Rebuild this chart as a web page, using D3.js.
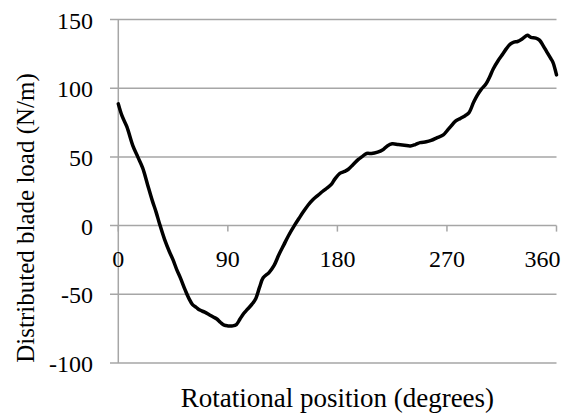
<!DOCTYPE html>
<html>
<head>
<meta charset="utf-8">
<script src="https://cdn.jsdelivr.net/npm/d3@7"></script>
<style>
  body { margin: 0; background: #fff; }
  text { font-family: "Liberation Serif", "Times New Roman", serif; fill: #000; }
</style>
</head>
<body>
<div class="canvas"></div>
<script>
// rotational position (degrees) and distributed blade load (N/m)
const positions = [0, 3, 7, 12, 16, 20, 24, 28, 31, 34, 38, 42, 45, 48, 51, 55, 58, 61, 64, 67,
  71, 75, 78, 81, 84, 87, 90, 94, 97, 100, 103, 106, 110, 113, 116, 119, 124, 128, 132, 136,
  140, 145, 149, 152, 156, 160, 164, 168, 171, 175, 178, 182, 186, 189, 193, 197, 200, 204, 208, 213,
  217, 221, 225, 230, 235, 240, 244, 248, 253, 257, 262, 267, 270, 273, 277, 281, 285, 288, 292, 295,
  298, 302, 305, 308, 312, 316, 319, 322, 325, 328, 332, 336, 339, 343, 346, 349, 352, 355, 357, 360];
const loads = [88.6, 80, 72, 58, 50, 42, 30, 18, 10, 1, -10, -19, -25, -32, -38, -47, -53, -57.5, -59.5, -61.5,
  -63, -65, -66.5, -68, -70.5, -72.5, -73, -73, -72, -68, -64, -61, -57, -53, -45, -38, -34, -29, -21, -14,
  -7, 0.5, 6, 10, 15, 19, 22, 25, 27, 30, 34, 38, 39.5, 41, 44.5, 48, 50, 52.5, 52.5, 53.5,
  55, 58, 59.5, 59, 58.5, 58, 59, 60.4, 61, 62, 64, 66, 69, 72, 76, 78, 80, 82, 90, 95,
  99, 103, 108, 114, 120, 125, 129, 132, 133.5, 134, 136, 138.5, 137, 136.5, 135, 131, 126.5, 122, 119, 109.7];

const xTicks = [0, 90, 180, 270, 360];
const yTicks = [-100, -50, 0, 50, 100, 150];

const data = positions.map((p, i) => ({ x: p, y: loads[i] }));

const width = 587, height = 417;
const svg = d3.select(".canvas").append("svg").attr("width", width).attr("height", height);

const x = d3.scaleLinear().domain([0, 360]).range([118.3, 556.5]);
const y = d3.scaleLinear().domain([-100, 150]).range([363, 19.5]);

const grey = "#a6a6a6";

// horizontal gridlines with the short left tick
svg.append("g")
  .selectAll("line")
  .data(yTicks)
  .enter()
  .append("line")
  .attr("x1", 110)
  .attr("x2", x(360))
  .attr("y1", (d) => y(d))
  .attr("y2", (d) => y(d))
  .attr("stroke", grey)
  .attr("stroke-width", 1.5);

// vertical axis line
svg.append("line")
  .attr("x1", x(0)).attr("x2", x(0))
  .attr("y1", y(150)).attr("y2", y(-100))
  .attr("stroke", grey).attr("stroke-width", 1.5);

// y tick labels
svg.append("g")
  .selectAll("text")
  .data(yTicks)
  .enter()
  .append("text")
  .attr("x", 93)
  .attr("y", (d) => y(d) + 9)
  .attr("text-anchor", "end")
  .style("font-size", "24px")
  .text((d) => d);

// x axis at zero: tick marks downward
svg.append("g")
  .selectAll("line")
  .data(xTicks)
  .enter()
  .append("line")
  .attr("x1", (d) => x(d))
  .attr("x2", (d) => x(d))
  .attr("y1", y(0))
  .attr("y2", y(0) + 6)
  .attr("stroke", grey)
  .attr("stroke-width", 1.5);

// last label is pulled in so it stays inside the picture
svg.append("g")
  .selectAll("text")
  .data(xTicks)
  .enter()
  .append("text")
  .attr("x", (d, i, n) => (i === n.length - 1 ? x(d) + 4 : x(d)))
  .attr("y", y(0) + 41)
  .attr("text-anchor", (d, i, n) => (i === n.length - 1 ? "end" : "middle"))
  .style("font-size", "24px")
  .text((d) => d);

// the curve
const line = d3.line()
  .x((d) => x(d.x))
  .y((d) => y(d.y))
  .curve(d3.curveCatmullRom);

svg.append("path")
  .datum(data)
  .attr("d", line)
  .attr("fill", "none")
  .attr("stroke", "#000")
  .attr("stroke-width", 3.5)
  .attr("stroke-linejoin", "round")
  .attr("stroke-linecap", "round");

// axis titles
svg.append("text")
  .attr("x", (x(0) + x(360)) / 2)
  .attr("y", 407)
  .attr("text-anchor", "middle")
  .style("font-size", "27px")
  .text("Rotational position (degrees)");

svg.append("text")
  .attr("transform", "translate(34,218) rotate(-90)")
  .attr("text-anchor", "middle")
  .style("font-size", "25px")
  .text("Distributed blade load (N/m)");
</script>
</body>
</html>
